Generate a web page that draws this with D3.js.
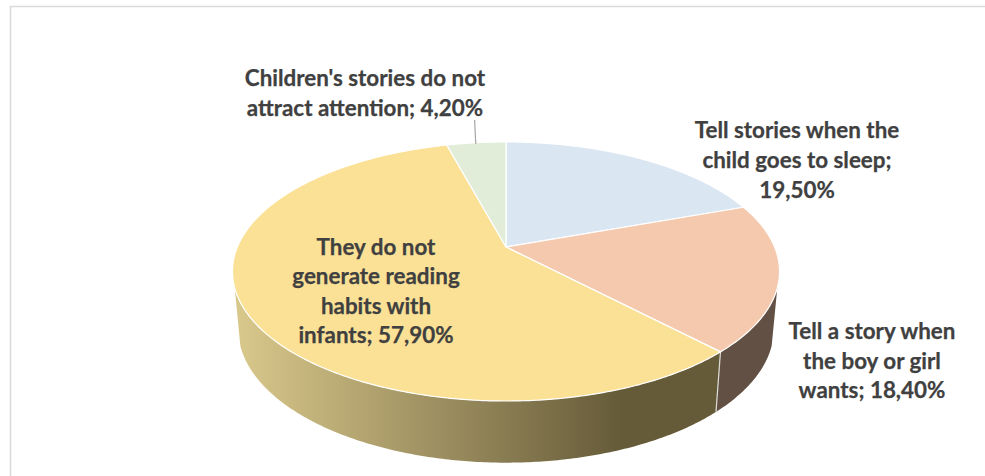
<!DOCTYPE html>
<html>
<head>
<meta charset="utf-8">
<script src="https://cdn.jsdelivr.net/npm/d3@7"></script>
<style>
  html, body { margin: 0; padding: 0; background: #fff; }
  svg { display: block; }
  text { font-family: Lato, "Open Sans", sans-serif; font-weight: 700; fill: #404040; stroke: #404040; stroke-width: 0.25; }
</style>
</head>
<body>
<svg id="chart" width="985" height="476"></svg>
<script>
// Slices run clockwise from twelve o'clock
const categories = [
  "Tell stories when the child goes to sleep",
  "Tell a story when the boy or girl wants",
  "They do not generate reading habits with infants",
  "Children's stories do not attract attention"
];
const shares = [19.5, 18.4, 57.9, 4.2];
const topColors = ["#DBE6F3", "#F5C9AD", "#FBE196", "#E1ECD9"];
const labelLines = [
  ["Tell stories when the", "child goes to sleep;", "19,50%"],
  ["Tell a story when", "the boy or girl", "wants; 18,40%"],
  ["They do not", "generate reading", "habits with", "infants; 57,90%"],
  ["Children's stories do not", "attract attention; 4,20%"]
];
const labelAnchors = [[797, 138], [872, 339], [376, 255], [365, 86]];
const labelLeading = [30, 29.5, 29.3, 30];

const svg = d3.select("#chart");

// Frame of the chart area: only its top and left edges fall inside the page
svg.append("path")
  .attr("d", "M10.5,476V6.5H985")
  .attr("fill", "none")
  .attr("stroke", "#DADADA")
  .attr("stroke-width", 1.6);

const defs = svg.append("defs");
const sideGradient = defs.append("linearGradient")
  .attr("id", "side-yellow")
  .attr("gradientUnits", "userSpaceOnUse")
  .attr("x1", 234).attr("x2", 620).attr("y1", 0).attr("y2", 0);
sideGradient.append("stop").attr("offset", 0).attr("stop-color", "#DAC98C");
sideGradient.append("stop").attr("offset", 1).attr("stop-color", "#665B39");

// Perspective view of a flat disc: the near edge is drawn larger than the far edge
const tilt = 0.189;
function discProjection(cy, halfWidth, halfDepth) {
  return angle => {
    const u = Math.sin(angle), v = -Math.cos(angle);
    const w = 1 - tilt * v;
    return [506 + halfWidth * u / w, cy + halfDepth * v / w];
  };
}
const topRim = discProjection(247, 268.6, 124.9);
const bottomRim = discProjection(303.6, 263, 129);
const hub = [506, 247];

const arcs = d3.pie().sort(null).value(d => d)(shares);
const line = d3.line();
const rimPoints = (rim, a0, a1) => {
  const steps = Math.max(2, Math.ceil(Math.abs(a1 - a0) / 0.01));
  return d3.range(steps + 1).map(i => rim(a0 + (a1 - a0) * i / steps));
};

// Side wall: only the near part of the rim can be seen
const wallStart = 108 * Math.PI / 180;
const wallEnd = 252 * Math.PI / 180;
const wallFill = ["#fff", "#635044", "url(#side-yellow)", "#fff"];
arcs.forEach((d, i) => {
  const a0 = Math.max(d.startAngle, wallStart);
  const a1 = Math.min(d.endAngle, wallEnd);
  if (a1 <= a0) return;
  const pts = rimPoints(topRim, a0, a1).concat(rimPoints(bottomRim, a1, a0));
  svg.append("path")
    .attr("d", line(pts) + "Z")
    .attr("fill", wallFill[i]);
});

// Seam where two side walls meet
arcs.forEach(d => {
  if (d.startAngle > wallStart && d.startAngle < wallEnd) {
    svg.append("path")
      .attr("d", line([topRim(d.startAngle), bottomRim(d.startAngle)]))
      .attr("stroke", "#DCDCD6")
      .attr("stroke-width", 1.2);
  }
});

// Top face
svg.selectAll("path.slice")
  .data(arcs)
  .join("path")
  .attr("class", "slice")
  .attr("d", d => line([hub, ...rimPoints(topRim, d.startAngle, d.endAngle)]) + "Z")
  .attr("fill", (d, i) => topColors[i])
  .attr("stroke", "#fff")
  .attr("stroke-width", 1.2)
  .attr("stroke-linejoin", "round");

// Leader line for the smallest slice
svg.append("line")
  .attr("x1", 474.6).attr("y1", 120)
  .attr("x2", 475.8).attr("y2", 144)
  .attr("stroke", "#A6A6A6")
  .attr("stroke-width", 1.2);

// Data labels
const labels = svg.selectAll("text.label")
  .data(labelLines)
  .join("text")
  .attr("class", "label")
  .attr("text-anchor", "middle")
  .attr("font-size", 22.4);
labels.each(function (lines, i) {
  d3.select(this).selectAll("tspan")
    .data(lines)
    .join("tspan")
    .attr("x", labelAnchors[i][0])
    .attr("y", (t, j) => labelAnchors[i][1] + j * labelLeading[i])
    .text(t => t);
});
</script>
</body>
</html>
